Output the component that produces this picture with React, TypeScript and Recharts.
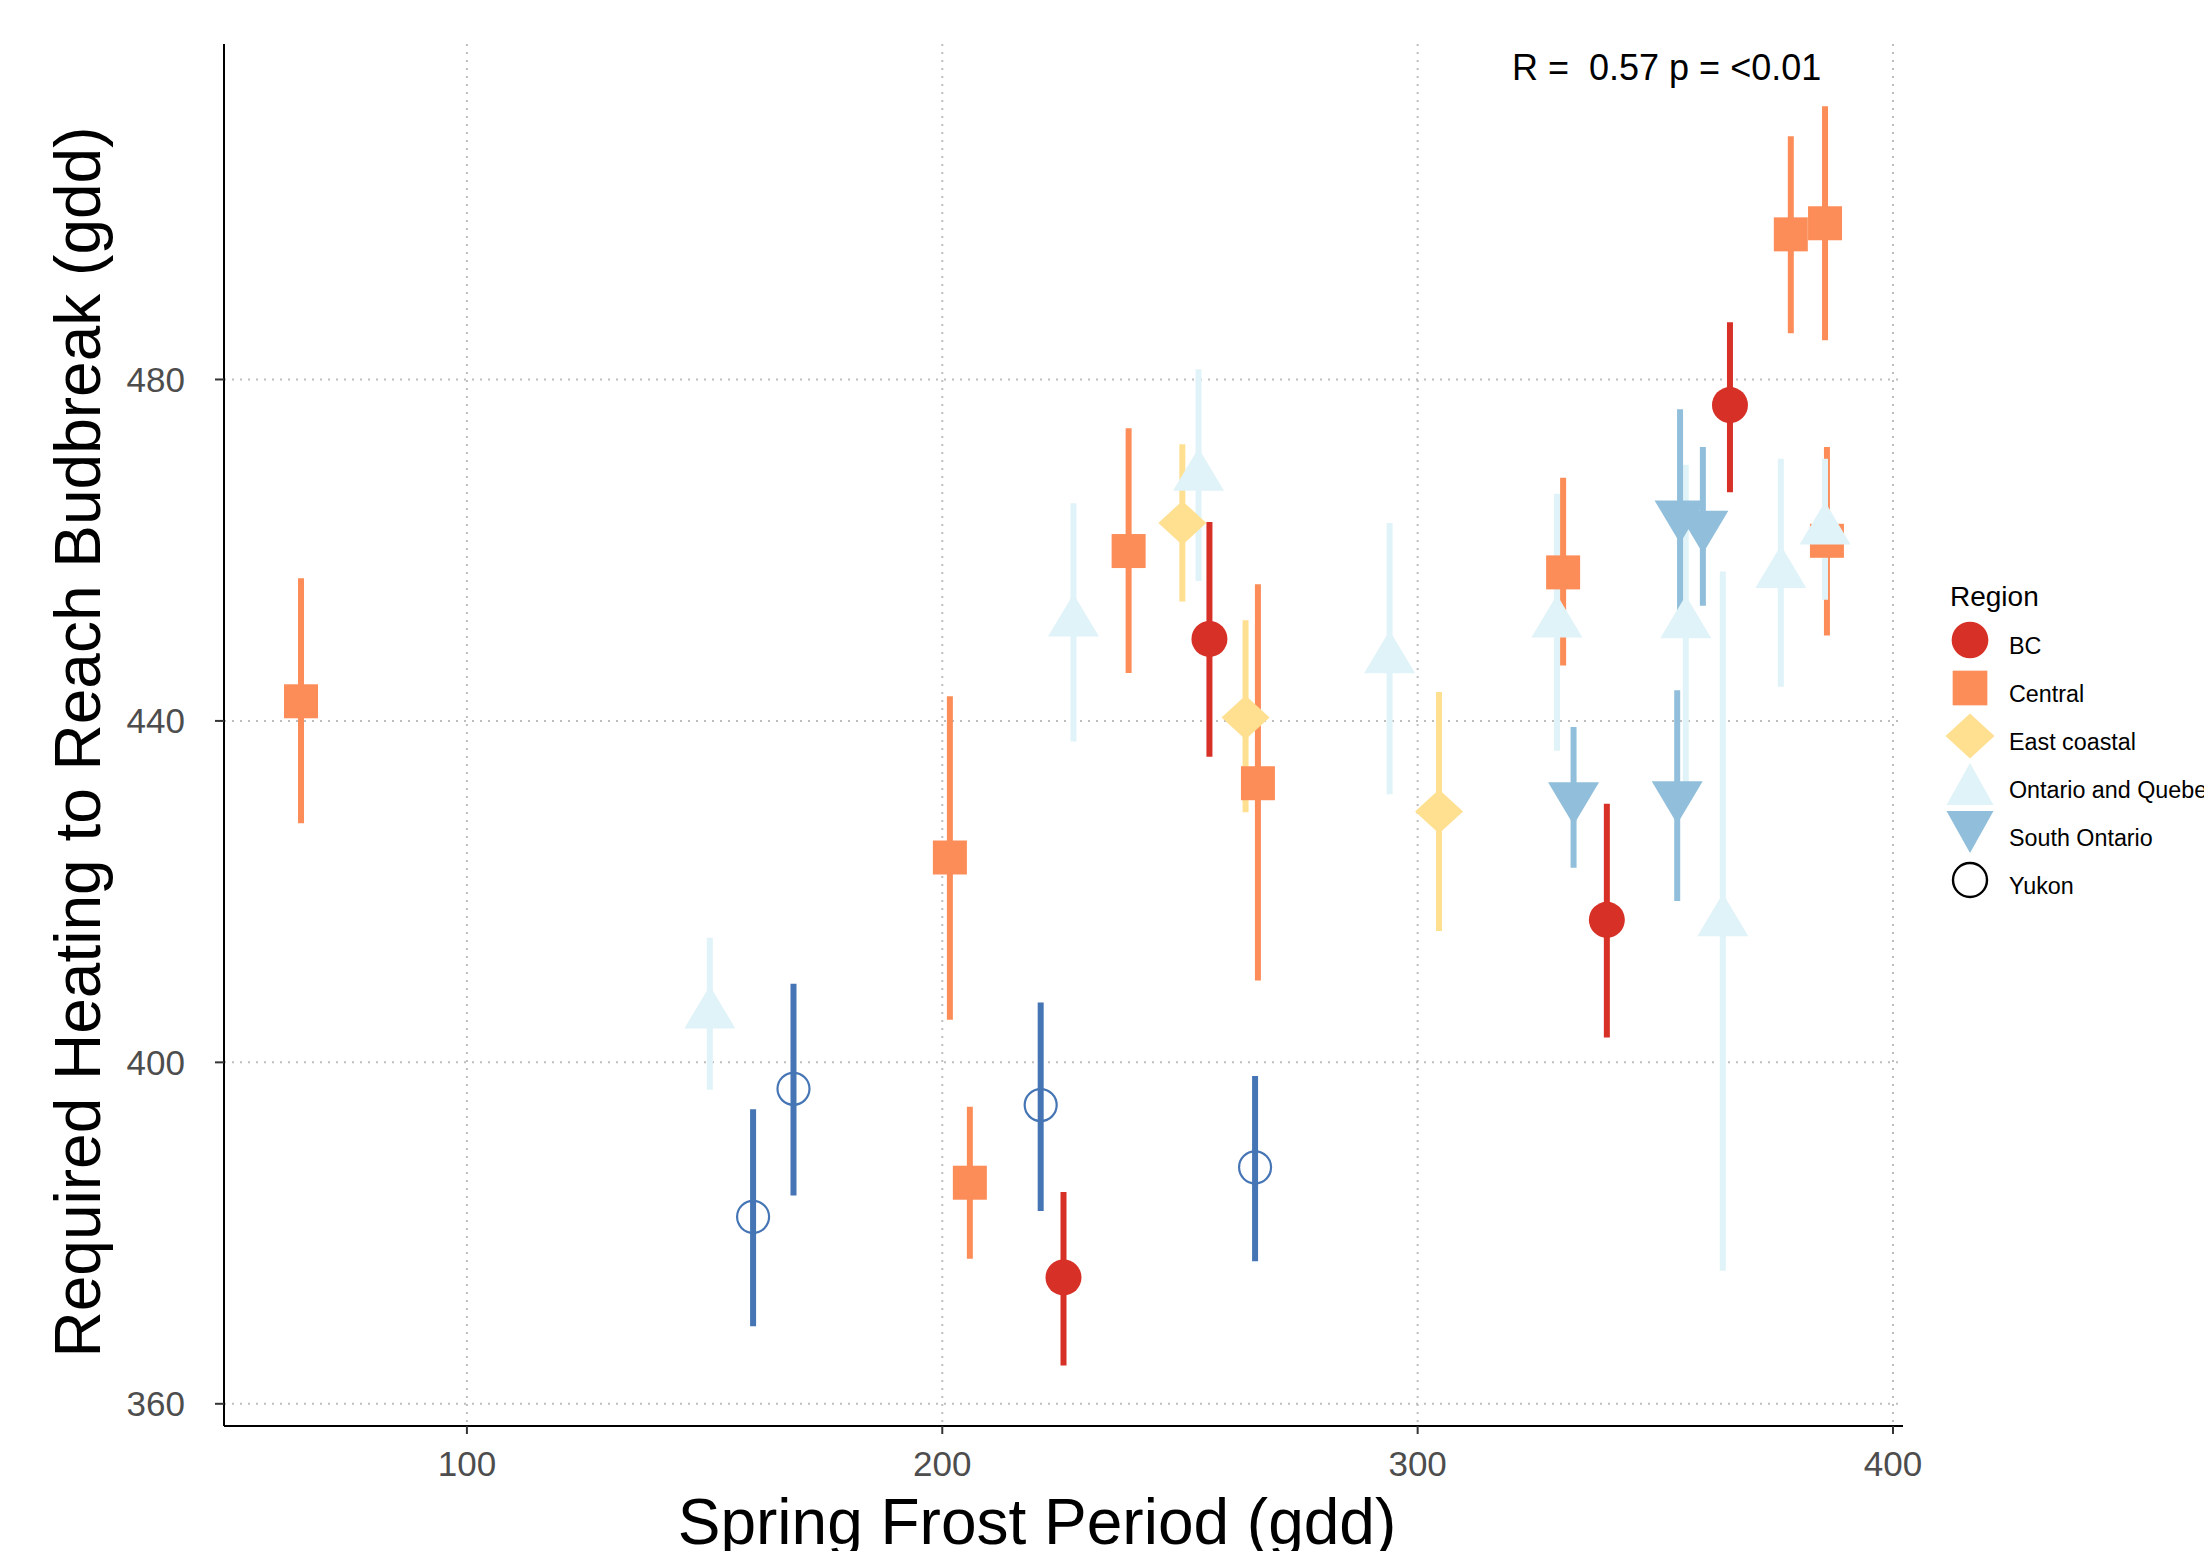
import React from "react";
import { ScatterChart, Scatter, XAxis, YAxis, CartesianGrid, ErrorBar } from "recharts";

// [spring frost period, mean heating, lower, upper]
type Pt = [number, number, number, number];

const bc: Pt[] = [
  [225.5, 374.8, 364.5, 384.8],
  [256.2, 449.6, 435.8, 463.3],
  [339.8, 416.7, 402.9, 430.3],
  [365.7, 477.0, 466.8, 486.7],
];
const central: Pt[] = [
  [65.1, 442.3, 428.0, 456.7],
  [201.6, 424.0, 405.0, 442.9],
  [205.8, 385.9, 377.0, 394.8],
  [239.2, 459.9, 445.6, 474.3],
  [266.4, 432.7, 409.6, 456.0],
  [330.6, 457.4, 446.5, 468.5],
  [378.5, 497.0, 485.4, 508.5],
  [385.7, 498.3, 484.6, 512.0],
  [386.1, 461.1, 450.0, 472.1],
];
const eastCoastal: Pt[] = [
  [250.5, 463.2, 454.0, 472.4],
  [263.8, 440.4, 429.3, 451.8],
  [304.5, 429.4, 415.4, 443.4],
];
const ontarioQuebec: Pt[] = [
  [151.1, 405.7, 396.8, 414.6],
  [227.6, 451.6, 437.6, 465.5],
  [253.9, 468.7, 456.4, 481.2],
  [294.1, 447.3, 431.4, 463.2],
  [329.3, 451.5, 436.5, 466.6],
  [356.4, 451.4, 432.4, 470.0],
  [364.2, 416.5, 375.6, 457.5],
  [376.4, 457.3, 444.0, 470.7],
  [385.7, 462.4, 454.2, 470.7],
];
const southOntario: Pt[] = [
  [332.8, 431.1, 422.8, 439.3],
  [354.6, 431.2, 418.9, 443.6],
  [355.2, 464.1, 451.1, 476.5],
  [360.0, 462.9, 453.5, 472.1],
];
const yukon: Pt[] = [
  [160.2, 381.9, 369.1, 394.5],
  [168.7, 396.9, 384.4, 409.2],
  [220.7, 395.0, 382.6, 407.0],
  [265.8, 387.7, 376.7, 398.4],
];

const xTicks = [100, 200, 300, 400];
const yTicks = [360, 400, 440, 480];

const SERIES = [
  { name: "BC", color: "#D73027", shape: "dot", pts: bc },
  { name: "Central", color: "#FC8D59", shape: "square", pts: central },
  { name: "East coastal", color: "#FEE090", shape: "diamond", pts: eastCoastal },
  { name: "Ontario and Quebec", color: "#E0F3F8", shape: "up", pts: ontarioQuebec },
  { name: "South Ontario", color: "#91BFDB", shape: "down", pts: southOntario },
  { name: "Yukon", color: "#4575B4", shape: "ring", pts: yukon },
];

const FONT = '"Liberation Sans", Arial, Helvetica, sans-serif';
const W = 2204;
const H = 1543;

function marker(shape: string, cx: number, cy: number, color: string, s = 1) {
  switch (shape) {
    case "dot":
      return <circle cx={cx} cy={cy} r={18 * s} fill={color} />;
    case "square":
      return <rect x={cx - 17 * s} y={cy - 17 * s} width={34 * s} height={34 * s} fill={color} />;
    case "diamond":
      return (
        <polygon
          points={`${cx},${cy - 22 * s} ${cx + 24 * s},${cy} ${cx},${cy + 22 * s} ${cx - 24 * s},${cy}`}
          fill={color}
        />
      );
    case "up":
      return (
        <polygon
          points={`${cx},${cy - 28 * s} ${cx + 25.5 * s},${cy + 14.7 * s} ${cx - 25.5 * s},${cy + 14.7 * s}`}
          fill={color}
        />
      );
    case "down":
      return (
        <polygon
          points={`${cx},${cy + 28 * s} ${cx + 25.5 * s},${cy - 14.7 * s} ${cx - 25.5 * s},${cy - 14.7 * s}`}
          fill={color}
        />
      );
    default:
      return <circle cx={cx} cy={cy} r={16 * s} fill="none" stroke={color} strokeWidth={2.2} />;
  }
}

const XTitle = () => (
  <text x={1029} y={1536} textAnchor="middle" fontSize={64} fontFamily={FONT} fill="#000">
    Spring Frost Period (gdd)
  </text>
);

const YTitle = () => (
  <text
    x={92}
    y={734}
    transform="rotate(-90 92 734)"
    textAnchor="middle"
    fontSize={64}
    fontFamily={FONT}
    fill="#000"
  >
    Required Heating to Reach Budbreak (gdd)
  </text>
);

function Overlay() {
  return (
    <svg width={W} height={H} style={{ position: "absolute", left: 0, top: 0, pointerEvents: "none" }}>
      <text x={1504} y={72} fontSize={36} fontFamily={FONT} fill="#000" xmlSpace="preserve" style={{ whiteSpace: "pre" }}>
        {"R =  0.57 p = <0.01"}
      </text>
      <text x={1942} y={598} fontSize={28} fontFamily={FONT} fill="#000">
        Region
      </text>
      {SERIES.map((s, i) => {
        const cy = 632 + i * 48;
        let icon;
        if (s.shape === "up") {
          icon = <polygon points={`1962,${cy - 21} 1985.5,${cy + 21} 1938.5,${cy + 21}`} fill={s.color} />;
        } else if (s.shape === "down") {
          icon = <polygon points={`1962,${cy + 21} 1985.5,${cy - 21} 1938.5,${cy - 21}`} fill={s.color} />;
        } else if (s.shape === "ring") {
          icon = <circle cx={1962} cy={cy} r={17} fill="none" stroke="#000" strokeWidth={2.4} />;
        } else {
          icon = marker(s.shape, 1962, cy, s.color, 1.02);
        }
        return (
          <g key={s.name}>
            {icon}
            <text x={2001} y={cy + 14} fontSize={23.3} fontFamily={FONT} fill="#000">
              {s.name}
            </text>
          </g>
        );
      })}
    </svg>
  );
}

export default function App() {
  const rows = SERIES.map((s) =>
    s.pts.map(([x, y, lo, hi]) => ({ x, y, err: [y - lo, hi - y] }))
  );

  return (
    <div style={{ position: "relative", width: W, height: H, background: "#fff" }}>
      <ScatterChart width={W} height={H} margin={{ top: 36, right: 309, bottom: 0, left: 0 }}>
        <CartesianGrid stroke="#BEBEBE" strokeWidth={2} strokeDasharray="2 6" syncWithTicks />
        <XAxis
          type="number"
          dataKey="x"
          domain={[48.9, 402.1]}
          ticks={xTicks}
          height={125}
          axisLine={{ stroke: "#000", strokeWidth: 2 }}
          tickLine={{ stroke: "#333", strokeWidth: 2 }}
          tickSize={8}
          tickMargin={17}
          tick={{ fill: "#4D4D4D", fontSize: 35, fontFamily: FONT }}
          label={<XTitle />}
        />
        <YAxis
          type="number"
          dataKey="y"
          domain={[357.4, 519.3]}
          ticks={yTicks}
          width={216}
          axisLine={{ stroke: "#000", strokeWidth: 2 }}
          tickLine={{ stroke: "#333", strokeWidth: 2 }}
          tickSize={9}
          tickMargin={30}
          tick={{ fill: "#4D4D4D", fontSize: 35, fontFamily: FONT }}
          label={<YTitle />}
        />
        {SERIES.map((s, i) => (
          <Scatter
            key={s.name}
            name={s.name}
            data={rows[i]}
            isAnimationActive={false}
            shape={(p: any) => marker(s.shape, p.cx, p.cy, s.color)}
          />
        ))}
        {SERIES.map((s, i) => (
          <Scatter
            key={s.name + "-err"}
            data={rows[i]}
            isAnimationActive={false}
            shape={() => <g />}
          >
            <ErrorBar
              dataKey="err"
              direction="y"
              width={0}
              strokeWidth={6}
              stroke={s.color}
              isAnimationActive={false}
            />
          </Scatter>
        ))}
      </ScatterChart>
      <Overlay />
    </div>
  );
}
